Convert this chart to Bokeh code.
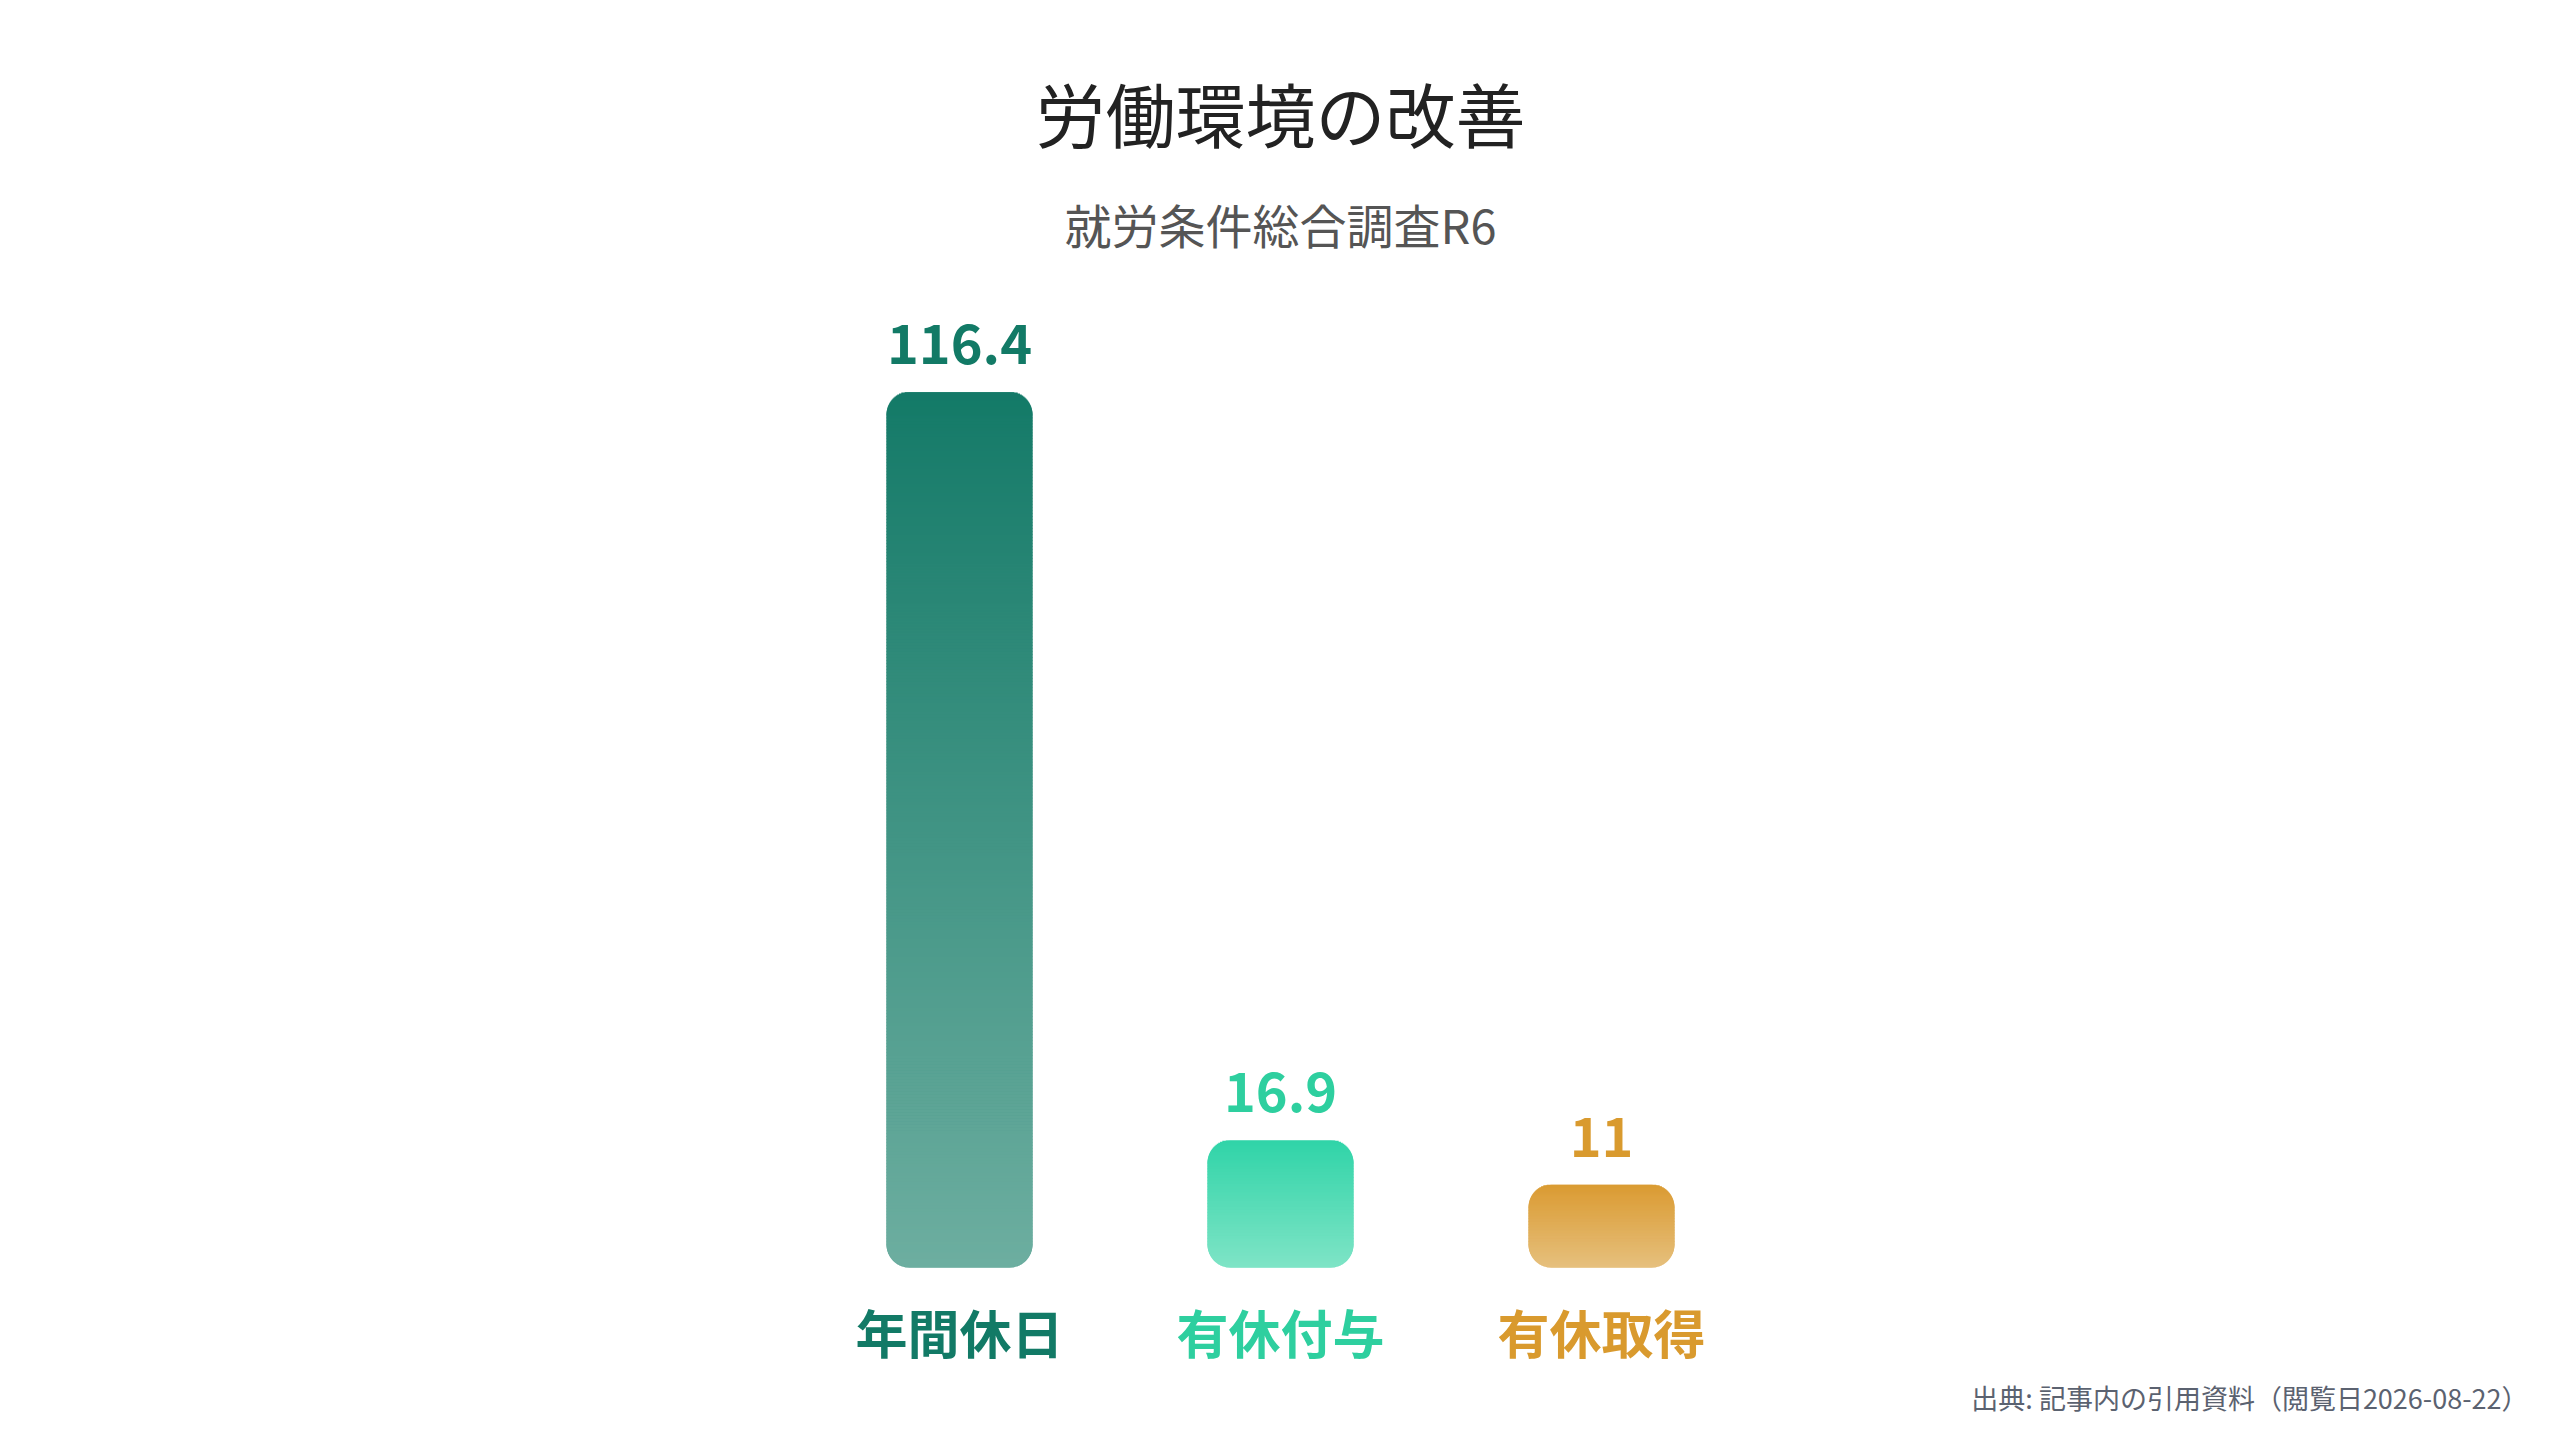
import math
from bokeh.plotting import figure
from bokeh.models import ColumnDataSource, Range1d
from bokeh.core.properties import value
from bokeh.embed import file_html
from bokeh.resources import INLINE

# ---- data ----
title_text = "労働環境の改善"
subtitle_text = "就労条件総合調査R6"
source_text = "出典: 記事内の引用資料（閲覧日2026-08-22）"
categories = ["年間休日", "有休付与", "有休取得"]
values = [116.4, 16.9, 11]
value_labels = ["116.4", "16.9", "11"]
label_colors = ["#127a66", "#2ecf9f", "#d99a2e"]
top_colors = ["#147a68", "#30d4a8", "#da9a30"]
bottom_colors = ["#6daea0", "#7fe4c6", "#e6c07e"]

# ---- layout constants (pixels) ----
W, H = 2544, 1424
PPU = 7.52          # pixels per value unit
BASE_PX = 1267      # y=0 position from top of canvas
STEP_PX = 321       # distance between bar centres
CENTER_PX = 1280    # centre of the middle category
BAR_W_PX = 146
R = 23              # corner radius
FONT = value("Noto Sans CJK JP")

n = len(categories)
mid = (n - 1) / 2
xs = list(range(n))

p = figure(width=W, height=H, output_backend="svg", toolbar_location=None,
           x_range=Range1d(mid - CENTER_PX / STEP_PX, mid + (W - CENTER_PX) / STEP_PX),
           y_range=Range1d(-(H - BASE_PX) / PPU, BASE_PX / PPU),
           x_axis_location=None, y_axis_location=None, min_border=0,
           background_fill_color="white", border_fill_color="white")
p.grid.visible = False
p.outline_line_color = None


def hex2rgb(h):
    h = h.lstrip("#")
    return tuple(int(h[i:i + 2], 16) for i in (0, 2, 4))


def lerp(c0, c1, t):
    a, b = hex2rgb(c0), hex2rgb(c1)
    return "#%02x%02x%02x" % tuple(int(round(a[k] + (b[k] - a[k]) * t)) for k in range(3))


# base bars (rounded), mid colour
p.vbar(x=xs, top=values, bottom=0, width=BAR_W_PX / STEP_PX,
       fill_color=[lerp(b, t, 0.5) for b, t in zip(bottom_colors, top_colors)],
       line_color=None, border_radius=R)

# gradient slices following the rounded outline
sx, sb, st, sw, sc = [], [], [], [], []
for i, v in enumerate(values):
    h_px = v * PPU
    edges = [float(k) for k in range(0, R)]
    mid_len = h_px - 2 * R
    nm = max(1, int(math.ceil(mid_len / 3.0)))
    edges += [R + mid_len * k / nm for k in range(nm)]
    edges += [h_px - R + k for k in range(0, R)]
    edges.append(h_px)
    for j in range(len(edges) - 1):
        y0, y1 = edges[j], edges[j + 1]
        m = (y0 + y1) / 2
        if m < R:
            d = R - m
        elif m > h_px - R:
            d = m - (h_px - R)
        else:
            d = 0
        inset = R - math.sqrt(max(R * R - d * d, 0))
        wpx = BAR_W_PX - 2 * inset
        top_px = y1 + (0.6 if j < len(edges) - 2 else 0)
        sx.append(xs[i])
        sb.append(y0 / PPU)
        st.append(top_px / PPU)
        sw.append(wpx / STEP_PX)
        sc.append(lerp(bottom_colors[i], top_colors[i], m / h_px))

p.vbar(x="x", bottom="b", top="t", width="w", fill_color="c", line_color=None,
       source=ColumnDataSource(dict(x=sx, b=sb, t=st, w=sw, c=sc)))

# value labels
p.text(x=xs, y=values, text=value_labels, text_color=label_colors,
       text_font=FONT, text_font_size=value("54px"), text_font_style="bold",
       text_align="center", text_baseline="alphabetic", y_offset=-48)

# category labels
p.text(x=xs, y=[0] * n, text=categories, text_color=label_colors,
       text_font=FONT, text_font_size=value("52px"), text_font_style="bold",
       text_align="center", text_baseline="middle", y_offset=64)

# title & subtitle
p.text(x=[mid], y=[(BASE_PX - 112) / PPU], text=[title_text], text_color="#222222",
       text_font=FONT, text_font_size=value("70px"),
       text_align="center", text_baseline="middle")
p.text(x=[mid], y=[(BASE_PX - 223) / PPU], text=[subtitle_text], text_color="#555555",
       text_font=FONT, text_font_size=value("47px"),
       text_align="center", text_baseline="middle")

# source note
p.text(x=[mid + (2528 - CENTER_PX) / STEP_PX], y=[(BASE_PX - 1397) / PPU], text=[source_text],
       text_color="#5b6270", text_font=FONT, text_font_size=value("27px"),
       text_align="right", text_baseline="middle")

open("out.html", "w").write(file_html(p, INLINE))
